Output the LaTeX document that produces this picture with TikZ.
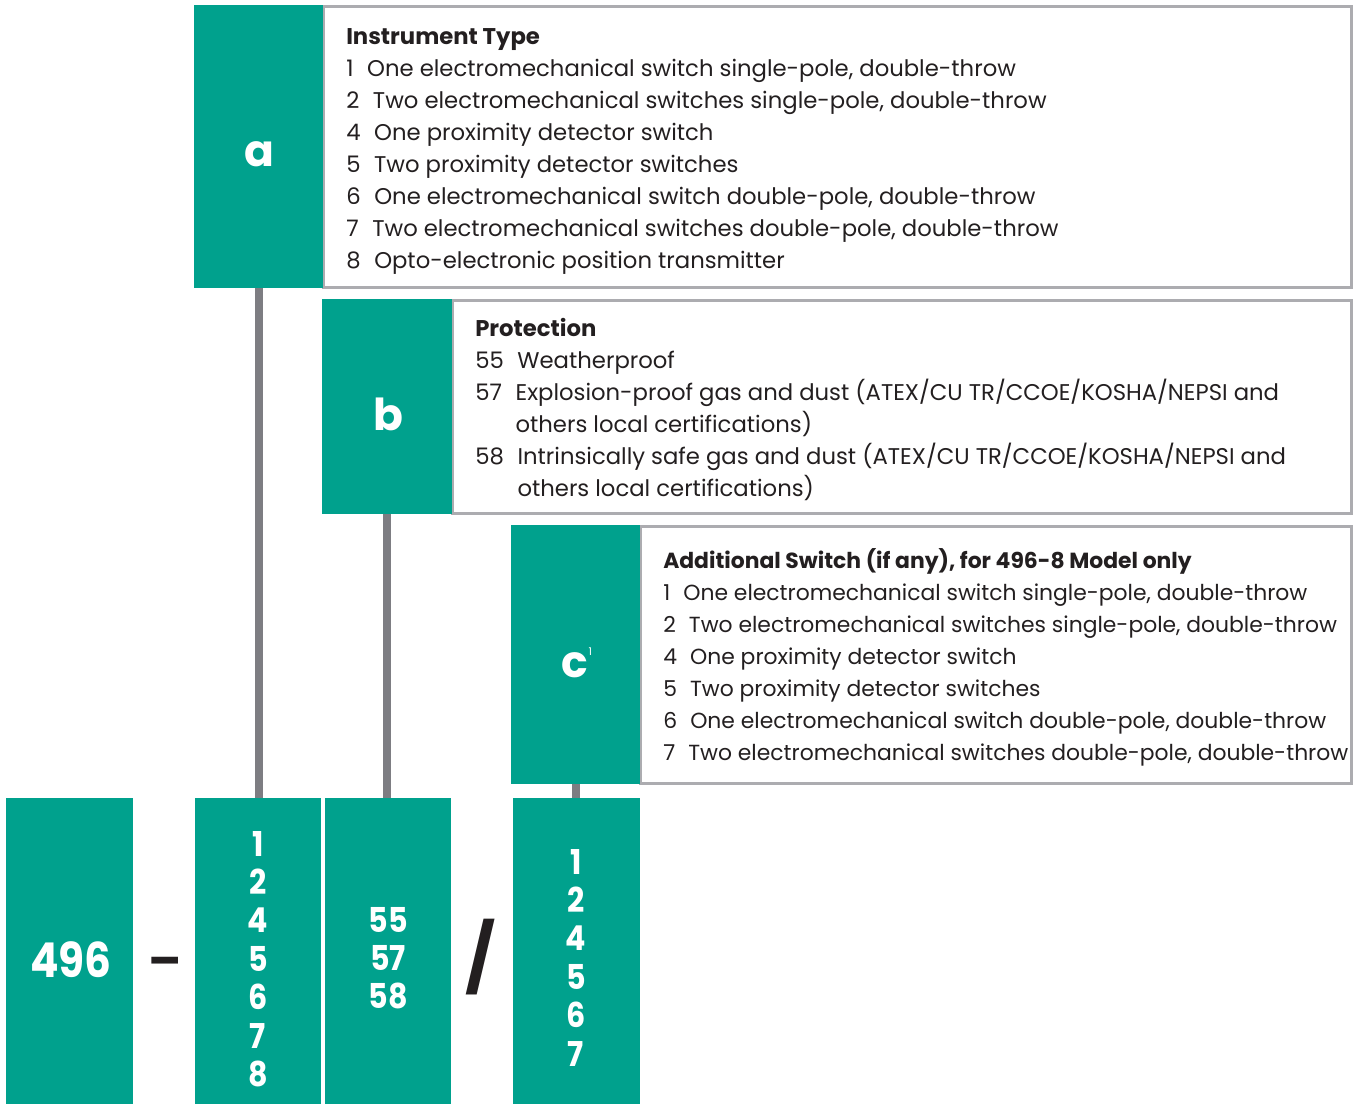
\documentclass[tikz,border=0pt]{standalone}
\usepackage{fontspec}
\setmainfont{Poppins}
\usetikzlibrary{fit}
\definecolor{brandteal}{RGB}{0,161,141}
\definecolor{bordergray}{RGB}{172,172,176}
\definecolor{conngray}{RGB}{125,125,130}
\definecolor{textdark}{RGB}{35,31,32}
\tikzset{
  tealbox/.style={fill=brandteal, draw=none, inner sep=0pt},
  infobox/.style={draw=bordergray, line width=2.25pt, fill=white, inner sep=0pt},
  conn/.style={draw=conngray, line width=6pt},
  item/.style={anchor=base west, inner sep=0pt, text=textdark, font=\fontsize{17.05}{20}\selectfont},
  head/.style={item, font=\fontsize{17.05}{20}\selectfont\bfseries},
  itemc/.style={item, font=\fontsize{16.4}{20}\selectfont},
  headc/.style={item, font=\fontsize{16.4}{20}\selectfont\bfseries},
  letter/.style={anchor=base, inner sep=0pt, text=white, font=\fontsize{33}{36}\selectfont\bfseries},
  digit/.style={anchor=base, inner sep=0pt, text=white, font=\fontsize{25.7}{28}\selectfont\bfseries},
  bigdigit/.style={anchor=base, inner sep=0pt, text=white, font=\fontsize{36}{40}\selectfont\bfseries},
  sep/.style={anchor=base, inner sep=0pt, text=textdark, font=\fontsize{36}{40}\selectfont\bfseries},
  slashsep/.style={anchor=center, inner sep=0pt, text=textdark, font=\fontsize{50}{54}\selectfont\bfseries},
}
\newcommand{\gap}{\hspace{0.6em}}
\newcommand{\narrow}[1]{\scalebox{0.88}[1]{#1}}
\begin{document}
\begin{tikzpicture}[x=0.75pt,y=-0.75pt]
\useasboundingbox (0,0) rectangle (1354,1104);
% info boxes
\node[infobox, fit={(323,6) (1351,287)}] (ia) {};
\node[infobox, fit={(452,300) (1351,513)}] (ib) {};
\node[infobox, fit={(640,526) (1351,783)}] (ic) {};
% teal header boxes
\node[tealbox, fit={(194,5) (323,288)}] (A) {};
\node[tealbox, fit={(322,299) (452,514)}] (B) {};
\node[tealbox, fit={(511,525) (640,784)}] (C) {};
% bottom boxes
\node[tealbox, fit={(6,798) (133,1104)}] (M) {};
\node[tealbox, fit={(195,798) (321,1104)}] (CA) {};
\node[tealbox, fit={(325,798) (451,1104)}] (CB) {};
\node[tealbox, fit={(513,798) (640,1104)}] (CC) {};
% connectors
\draw[conn] (A.south) -- (A.south |- CA.north);
\draw[conn] (B.south) -- (B.south |- CB.north);
\draw[conn] (C.south) -- (C.south |- CC.north);
% letters
\node[letter] (la) at (259,166) {a};
\node[letter] (lb) at (388,430) {b};
\node[letter] (lc) at (577,677) {c\raisebox{0.5em}{\fontsize{8}{8}\selectfont\mdseries 1}};
% text a
\node[head] (ta0) at (346,44) {Instrument Type};
\node[item] (ta1) at (346,76) {1\gap One electromechanical switch single-pole, double-throw};
\node[item] (ta2) at (346,108) {2\gap Two electromechanical switches single-pole, double-throw};
\node[item] (ta3) at (346,140) {4\gap One proximity detector switch};
\node[item] (ta4) at (346,172) {5\gap Two proximity detector switches};
\node[item] (ta5) at (346,204) {6\gap One electromechanical switch double-pole, double-throw};
\node[item] (ta6) at (346,236) {7\gap Two electromechanical switches double-pole, double-throw};
\node[item] (ta7) at (346,268) {8\gap Opto-electronic position transmitter};
% text b
\node[head] (tb0) at (475,336) {Protection};
\node[item] (tb1) at (475,368) {55\gap Weatherproof};
\node[item] (tb2) at (475,400) {57\gap Explosion-proof gas and dust (ATEX/CU TR/CCOE/KOSHA/NEPSI and};
\node[item] (tb3) at (475,432) {\phantom{57}\gap others local certifications)};
\node[item] (tb4) at (475,464) {58\gap Intrinsically safe gas and dust (ATEX/CU TR/CCOE/KOSHA/NEPSI and};
\node[item] (tb5) at (475,496) {\phantom{58}\gap others local certifications)};
% text c
\node[headc] (tc0) at (663,568) {Additional Switch (if any), for 496-8 Model only};
\node[itemc] (tc1) at (663,600) {1\gap One electromechanical switch single-pole, double-throw};
\node[itemc] (tc2) at (663,632) {2\gap Two electromechanical switches single-pole, double-throw};
\node[itemc] (tc3) at (663,664) {4\gap One proximity detector switch};
\node[itemc] (tc4) at (663,696) {5\gap Two proximity detector switches};
\node[itemc] (tc5) at (663,728) {6\gap One electromechanical switch double-pole, double-throw};
\node[itemc] (tc6) at (663,760) {7\gap Two electromechanical switches double-pole, double-throw};
% bottom code
\node[bigdigit] (n496) at (71,977) {\narrow{496}};
\node[sep] (dash) at (165,977) {–};
\node[slashsep] (slash) at (481,957) {/};
\foreach \d [count=\i] in {1,2,4,5,6,7,8}
  \node[digit] (ca\i) at ({258},{856+38.4*(\i-1)}) {\narrow{\d}};
\foreach \d [count=\i] in {55,57,58}
  \node[digit] (cb\i) at ({388},{932+38.4*(\i-1)}) {\narrow{\d}};
\foreach \d [count=\i] in {1,2,4,5,6,7}
  \node[digit] (cc\i) at ({576},{874+38.4*(\i-1)}) {\narrow{\d}};
\end{tikzpicture}
\end{document}
